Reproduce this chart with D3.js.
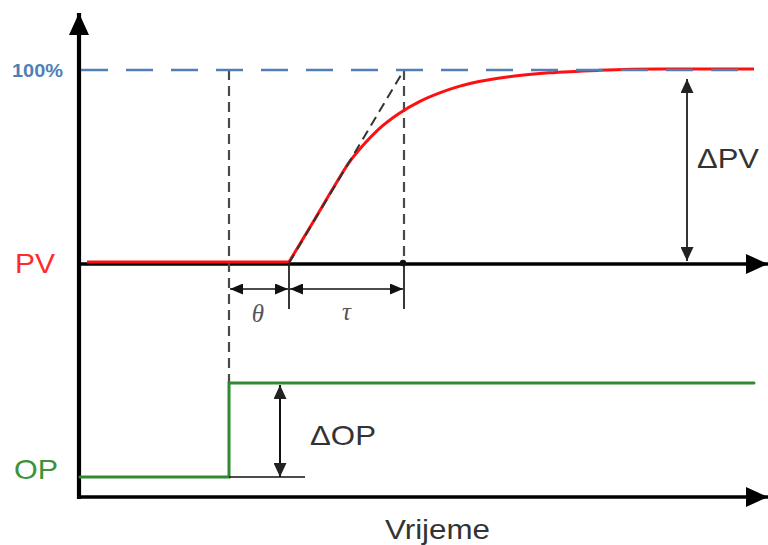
<!DOCTYPE html>
<html>
<head>
<meta charset="utf-8">
<script src="https://cdn.jsdelivr.net/npm/d3@7"></script>
<style>
  html, body { margin: 0; padding: 0; background: #fff; }
  svg { display: block; }
  text { font-family: "Liberation Sans", Arial, sans-serif; }
</style>
</head>
<body>
<svg id="chart" width="768" height="545"></svg>
<script>
// Time instants (arbitrary time units)
const stepTime = 3.0;      // OP step
const deadEnd = 4.2;       // end of dead time θ
const tauEnd = 6.5;        // dead time + time constant τ
const endTime = 13.5;

// Process variable response, in % of final change
const pvTime  = [0.16, 4.2, 4.7,  5.1, 5.4,  5.7, 6.0, 6.4, 6.8, 7.2,  7.6, 8.0,  8.6, 9.4, 10.4, 11.6, 13.5];
const pvValue = [0,    0,   21.5, 39,  51.5, 61,  69,  77,  83,  87.5, 91,  93.5, 96,  98,  99.3, 100,  100];

// Controller output step, in % of step size
const opTime  = [0.02, 3.0, 3.0, 13.5];
const opValue = [0,    0,   100, 100];

// Tangent through the inflection of the response
const tangentTime  = [4.2, 6.5];
const tangentValue = [0, 100];

const labels = { pv: "PV", op: "OP", full: "100%", dPV: "ΔPV", dOP: "ΔOP", theta: "θ", tau: "τ", time: "Vrijeme" };

const svg = d3.select("#chart");

const x = d3.scaleLinear().domain([0, 13.6]).range([79, 759]);
const yPV = d3.scaleLinear().domain([0, 100]).range([263, 70]);
const yOP = d3.scaleLinear().domain([0, 100]).range([477, 383]);
const yBottom = 497;

// arrow markers
const defs = svg.append("defs");
function marker(id, color, len, half) {
  defs.append("marker")
    .attr("id", id)
    .attr("viewBox", `0 ${-half} ${len} ${2 * half}`)
    .attr("refX", len).attr("refY", 0)
    .attr("markerWidth", len).attr("markerHeight", 2 * half)
    .attr("markerUnits", "userSpaceOnUse")
    .attr("orient", "auto-start-reverse")
    .append("path")
    .attr("d", `M0,${-half}L${len},0L0,${half}Z`)
    .attr("fill", color);
}
marker("axisHead", "#000", 22, 10);
marker("dimHead", "#111", 13, 5.5);
marker("dimHeadV", "#222", 14, 6.5);

const line = d3.line();

// axes
svg.append("line")
  .attr("x1", x(0)).attr("y1", yBottom + 2)
  .attr("x2", x(0)).attr("y2", 13)
  .attr("stroke", "#000").attr("stroke-width", 4.2)
  .attr("marker-end", "url(#axisHead)");
svg.append("line")
  .attr("x1", x(0) - 2).attr("y1", yPV(0) + 1)
  .attr("x2", 768).attr("y2", yPV(0) + 1)
  .attr("stroke", "#000").attr("stroke-width", 3.5)
  .attr("marker-end", "url(#axisHead)");
svg.append("line")
  .attr("x1", x(0) - 2).attr("y1", yBottom)
  .attr("x2", 768).attr("y2", yBottom)
  .attr("stroke", "#000").attr("stroke-width", 3.5)
  .attr("marker-end", "url(#axisHead)");

// dashed guides
const guide = "#4a4a4a";
svg.append("line")
  .attr("x1", x(stepTime)).attr("y1", yPV(100))
  .attr("x2", x(stepTime)).attr("y2", yOP(100))
  .attr("stroke", guide).attr("stroke-width", 2.2).attr("stroke-dasharray", "10,6");
svg.append("line")
  .attr("x1", x(tauEnd)).attr("y1", yPV(100))
  .attr("x2", x(tauEnd)).attr("y2", yPV(0))
  .attr("stroke", guide).attr("stroke-width", 2.2).attr("stroke-dasharray", "10,6");

// PV response: flat until the dead time ends, then the smooth rise
const pvPts = pvTime.map((t, i) => [x(t), yPV(pvValue[i]) - 1]);
svg.append("path")
  .datum(pvPts.slice(0, 2))
  .attr("d", line)
  .attr("fill", "none").attr("stroke", "#ff1010").attr("stroke-width", 3);
svg.append("path")
  .datum(pvPts.slice(1))
  .attr("d", d3.line().curve(d3.curveMonotoneX))
  .attr("fill", "none").attr("stroke", "#ff1010").attr("stroke-width", 3)
  .attr("stroke-linejoin", "round");

// tangent
svg.append("path")
  .datum(tangentTime.map((t, i) => [x(t), yPV(tangentValue[i])]))
  .attr("d", line)
  .attr("fill", "none").attr("stroke", "#333").attr("stroke-width", 2)
  .attr("stroke-dasharray", "10,6");

// 100 % reference line
svg.append("line")
  .attr("x1", x(0) + 2).attr("y1", yPV(100))
  .attr("x2", x(endTime) + 1).attr("y2", yPV(100))
  .attr("stroke", "#4f7fb5").attr("stroke-width", 2.6).attr("stroke-dasharray", "27,18");

// OP step
svg.append("path")
  .datum(opTime.map((t, i) => [x(t), yOP(opValue[i])]))
  .attr("d", line)
  .attr("fill", "none").attr("stroke", "#2f8a2f").attr("stroke-width", 3)
  .attr("stroke-linecap", "round");

// ticks for θ and τ
[deadEnd, tauEnd].forEach(t => {
  svg.append("line")
    .attr("x1", x(t)).attr("y1", yPV(0))
    .attr("x2", x(t)).attr("y2", yPV(0) + 46)
    .attr("stroke", "#222").attr("stroke-width", 1.8);
});
svg.append("circle")
  .attr("cx", x(tauEnd) - 1).attr("cy", yPV(0))
  .attr("r", 3.2).attr("fill", "#111");

// θ and τ dimension arrows
const dimY = 289;
[[stepTime, deadEnd], [deadEnd, tauEnd]].forEach(([a, b]) => {
  svg.append("line")
    .attr("x1", x(a) + 1).attr("y1", dimY)
    .attr("x2", x(b) - 1).attr("y2", dimY)
    .attr("stroke", "#111").attr("stroke-width", 1.6)
    .attr("marker-start", "url(#dimHead)")
    .attr("marker-end", "url(#dimHead)");
});
svg.append("text").text(labels.theta)
  .attr("x", (x(stepTime) + x(deadEnd)) / 2 - 1).attr("y", 322)
  .attr("text-anchor", "middle")
  .style("font-family", "'Liberation Serif', 'DejaVu Serif', serif")
  .style("font-style", "italic").style("font-size", "25px").attr("fill", "#555");
svg.append("text").text(labels.tau)
  .attr("x", (x(deadEnd) + x(tauEnd)) / 2).attr("y", 320)
  .attr("text-anchor", "middle")
  .style("font-family", "'Liberation Serif', 'DejaVu Serif', serif")
  .style("font-style", "italic").style("font-size", "25px").attr("fill", "#555");

// ΔPV arrow
svg.append("line")
  .attr("x1", 687).attr("y1", yPV(0) - 2)
  .attr("x2", 687).attr("y2", yPV(100) + 9)
  .attr("stroke", "#333").attr("stroke-width", 2)
  .attr("marker-start", "url(#dimHeadV)")
  .attr("marker-end", "url(#dimHeadV)");

// ΔOP arrow and base line
svg.append("line")
  .attr("x1", x(stepTime)).attr("y1", yOP(0))
  .attr("x2", 305).attr("y2", yOP(0))
  .attr("stroke", "#111").attr("stroke-width", 1.5);
svg.append("line")
  .attr("x1", 280).attr("y1", yOP(0))
  .attr("x2", 280).attr("y2", yOP(100) + 2)
  .attr("stroke", "#111").attr("stroke-width", 2)
  .attr("marker-start", "url(#dimHeadV)")
  .attr("marker-end", "url(#dimHeadV)");

// text labels
function label(txt, px, py, size, color, len, anchor) {
  const t = svg.append("text").text(txt)
    .attr("x", px).attr("y", py)
    .style("font-size", size + "px").attr("fill", color)
    .attr("text-anchor", anchor || "start");
  if (len) t.attr("textLength", len).attr("lengthAdjust", "spacingAndGlyphs");
  return t;
}
label(labels.full, 12, 77, 18, "#4f7fb5", 51).style("font-weight", "bold");
label(labels.pv, 15, 273, 28, "#ff2a2a", 40);
label(labels.op, 14, 479, 28, "#3a933a", 44);
label(labels.dPV, 697, 168, 28, "#333", 62);
label(labels.dOP, 310, 445, 28, "#333", 66);
label(labels.time, 385, 539, 27, "#333", 105);
</script>
</body>
</html>
